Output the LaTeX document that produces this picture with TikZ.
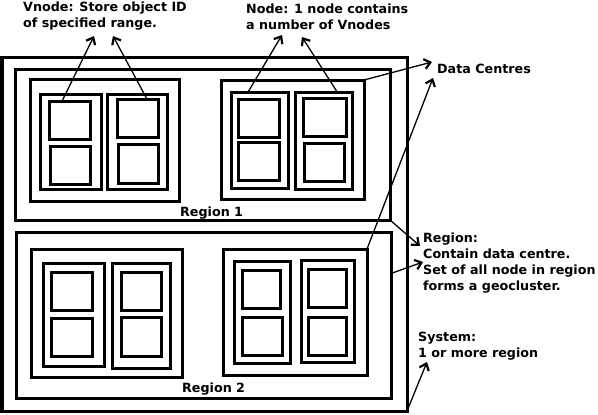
\documentclass[tikz,border=0pt]{standalone}
\usepackage{fontspec}
\setmainfont{DejaVu Sans}
\usetikzlibrary{arrows.meta,calc}
\tikzset{
  box/.style={draw, line width=3pt, inner sep=0pt, outer sep=0pt},
  lbl/.style={anchor=base west, inner sep=0pt, font=\fontsize{12.7}{16}\selectfont\bfseries},
  arr/.style={line width=1.3pt, -{Straight Barb[length=6pt,width=10pt,line width=2.2pt]}},
}
\newcommand\bx[5]{\node[box,minimum width={(#4)-(#2)},minimum height={(#5)-(#3)}] (#1) at ({((#2)+(#4))/2},{((#3)+(#5))/2}) {};}
\begin{document}
\begin{tikzpicture}[x=1pt,y=-1pt]
\useasboundingbox (0,0) rectangle (598,415);
% system and regions
\bx{sys}{2}{57}{407}{411}
\bx{R1}{15}{69}{390}{220}
\bx{R2}{16}{232}{391}{398}
% data centres
\bx{dcA}{30}{79}{179}{201}
\bx{dcB}{221}{80}{364}{199}
\bx{dcC}{31}{249}{182}{377}
\bx{dcD}{223}{249}{367}{375}
% nodes
\bx{nA1}{40}{94}{101}{189}
\bx{nA2}{107}{94}{167}{189}
\bx{nB1}{231}{92}{288}{188}
\bx{nB2}{295}{92}{352}{189}
\bx{nC1}{43}{263}{104}{366}
\bx{nC2}{112}{263}{170}{368}
\bx{nD1}{234}{261}{290}{363}
\bx{nD2}{301}{260}{354}{362}
% vnodes
\bx{vA1}{49}{101}{90}{139}
\bx{vA2}{50}{146}{90}{184}
\bx{vA3}{117}{99}{158}{137}
\bx{vA4}{118}{144}{158}{183}
\bx{vB1}{238}{99}{279}{137}
\bx{vB2}{238}{142}{279}{180}
\bx{vB3}{303}{98}{346}{136}
\bx{vB4}{304}{143}{344}{181}
\bx{vC1}{51}{272}{92}{310}
\bx{vC2}{51}{318}{92}{356}
\bx{vC3}{121}{272}{161}{310}
\bx{vC4}{121}{317}{161}{356}
\bx{vD1}{242}{270}{280}{308}
\bx{vD2}{242}{317}{282}{355}
\bx{vD3}{308}{269}{346}{307}
\bx{vD4}{308}{317}{346}{355}
% labels
\node[lbl] (tV) at (23,12) {\begin{tabular}[t]{@{}l@{}}Vnode: Store object ID\\of specified range.\end{tabular}};
\node[lbl] (tN) at (246,13) {\begin{tabular}[t]{@{}l@{}}Node: 1 node contains\\a number of Vnodes\end{tabular}};
\node[lbl] (tD) at (437,73) {Data Centres};
\node[lbl] (tR) at (423,242) {\begin{tabular}[t]{@{}l@{}}Region:\\Contain data centre.\\Set of all node in region\\forms a geocluster.\end{tabular}};
\node[lbl] (tS) at (418,341) {\begin{tabular}[t]{@{}l@{}}System:\\1 or more region\end{tabular}};
\node[lbl] (tR1) at (180,216) {Region 1};
\node[lbl] (tR2) at (182,392) {Region 2};
% arrow ends
\coordinate (e1) at (94,36);
\coordinate (e2) at (113,36);
\coordinate (e3) at (282,35);
\coordinate (e4) at (302,37);
\coordinate (e5) at (432,62);
\coordinate (e6) at (433,78);
\coordinate (e7) at (420,246);
\coordinate (e8) at (423,262);
\coordinate (e9) at (427,362);
% arrows
\draw[arr] ($(vA1.north west)!0.32!(vA1.north east)$) -- (e1);
\draw[arr] ($(vA3.north west)!0.73!(vA3.north east)$) -- (e2);
\draw[arr] ($(nB1.north west)!0.3!(nB1.north east)$) -- (e3);
\draw[arr] ($(nB2.north west)!0.74!(nB2.north east)$) -- (e4);
\draw[arr] (dcB.north east) -- (e5);
\draw[arr] (dcD.north east) -- (e6);
\draw[arr] (R1.south east) -- (e7);
\draw[arr] ($(R2.north east)!0.25!(R2.south east)$) -- (e8);
\draw[arr] (sys.south east) -- (e9);
\end{tikzpicture}
\end{document}
